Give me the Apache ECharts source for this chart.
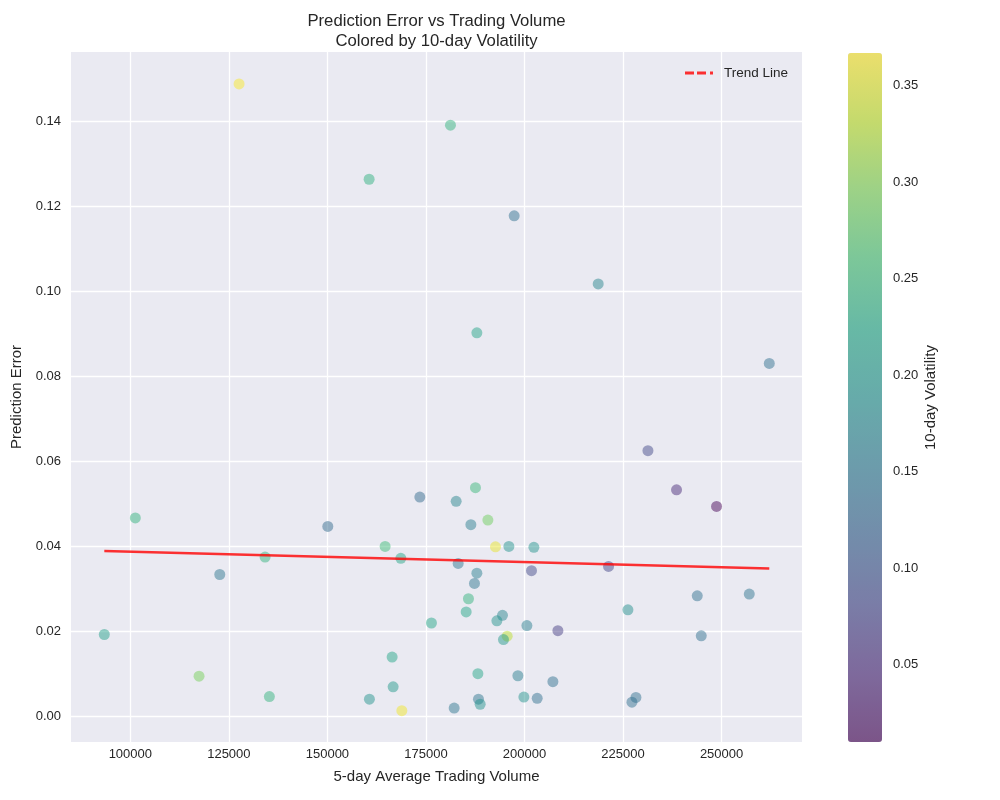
<!DOCTYPE html>
<html>
<head>
<meta charset="utf-8">
<script src="https://cdn.jsdelivr.net/npm/echarts@6/dist/echarts.min.js"></script>
<style>
html,body{margin:0;padding:0;background:#fff;}
#chart{width:1000px;height:800px;}
</style>
</head>
<body>
<div id="chart"></div>
<script>
// 5-day average trading volume (x)
const volume = [127589,160584,181218,197386,218706,187919,262107,173452,101269,150102,
  164645,168629,134188,122690,93401,176396,166421,117437,135279,166675,
  160660,168883,187563,182665,190711,186396,192640,196041,202386,183173,
  221320,201777,187919,187310,185787,185203,194416,192995,200609,208477,
  195609,194670,226244,243832,257030,244848,231320,238579,248731,188173,
  198325,207208,188325,188756,182157,199848,203223,228274,227259];
// prediction error (y)
const predError = [0.1487,0.1263,0.1390,0.1177,0.1017,0.0902,0.0830,0.0516,0.0467,0.0447,
  0.0400,0.0372,0.0375,0.0334,0.0193,0.0220,0.0140,0.0095,0.0047,0.0070,
  0.0041,0.0014,0.0538,0.0506,0.0462,0.0451,0.0399,0.0400,0.0398,0.0360,
  0.0353,0.0343,0.0337,0.0313,0.0277,0.0246,0.0238,0.0225,0.0214,0.0202,
  0.0189,0.0181,0.0251,0.0284,0.0288,0.0190,0.0625,0.0533,0.0494,0.0101,
  0.0096,0.0082,0.0041,0.0029,0.0020,0.0046,0.0043,0.0045,0.0034];
// 10-day volatility (colour)
const volatility = [0.365,0.235,0.24,0.14,0.17,0.215,0.14,0.13,0.24,0.13,
  0.25,0.22,0.24,0.15,0.21,0.22,0.22,0.29,0.24,0.20,
  0.19,0.36,0.245,0.17,0.285,0.16,0.355,0.19,0.19,0.15,
  0.08,0.085,0.16,0.15,0.24,0.22,0.17,0.19,0.16,0.07,
  0.33,0.20,0.185,0.14,0.145,0.14,0.085,0.05,0.012,0.22,
  0.16,0.14,0.15,0.19,0.15,0.19,0.14,0.14,0.14];
// trend line endpoints (linear fit)
const trendX = [93401, 262107];
const trendY = [0.0389, 0.0348];

const xTicks = [100000,125000,150000,175000,200000,225000,250000];
const yTicks = [0,0.02,0.04,0.06,0.08,0.10,0.12,0.14];
const cbTicks = [0.05,0.10,0.15,0.20,0.25,0.30,0.35];
const xRange = [84949, 270406];
const yRange = [-0.00597, 0.15621];
const volRange = [0.0099, 0.367];

const viridis = ['#440154','#482475','#414487','#355f8d','#2a788e','#21918c','#22a884','#44bf70','#7ad151','#bddf26','#fde725'];
function alpha(hex, a){
  const r=parseInt(hex.slice(1,3),16),g=parseInt(hex.slice(3,5),16),b=parseInt(hex.slice(5,7),16);
  return 'rgba('+r+','+g+','+b+','+a+')';
}
const FONT = '"Liberation Sans", Arial, sans-serif';
const TXT = '#262626';
const RED = 'rgba(255,0,0,0.8)';

const scatterData = volume.map((v,i)=>[v, predError[i], volatility[i]]);
const trendData = trendX.map((v,i)=>[v, trendY[i]]);

const chart = echarts.init(document.getElementById('chart'), null, {renderer:'canvas'});
chart.setOption({
  animation:false,
  backgroundColor:'#ffffff',
  textStyle:{fontFamily:FONT},
  title:{
    text:'Prediction Error vs Trading Volume\nColored by 10-day Volatility',
    left:436.5, top:11, padding:0, textAlign:'center',
    textStyle:{fontFamily:FONT, fontSize:16.7, fontWeight:'normal', color:TXT, lineHeight:20}
  },
  legend:{
    data:[{name:'Trend Line',
      icon:'path://M0,0H9V3H0Z M12,0H21V3H12Z M25,0H28V3H25Z',
      itemStyle:{color:RED, borderWidth:0}}],
    left:685, top:66, itemWidth:28, itemHeight:3, padding:0,
    textStyle:{fontFamily:FONT, fontSize:13.5, color:TXT, padding:[0,0,0,6]}
  },
  grid:[
    {left:71, top:52, width:731, height:690, show:true, backgroundColor:'#eaeaf2', borderWidth:0},
    {left:848, top:53, width:34, height:689, show:false}
  ],
  xAxis:[
    {type:'value', gridIndex:0, min:xRange[0], max:xRange[1],
     name:'5-day Average Trading Volume', nameLocation:'middle', nameGap:27,
     nameTextStyle:{fontFamily:FONT, fontSize:15, color:TXT},
     axisLine:{show:false}, axisTick:{show:false, customValues:xTicks},
     axisLabel:{customValues:xTicks, margin:6, fontFamily:FONT, fontSize:13, color:TXT,
       formatter:v=>String(Math.round(v))},
     splitLine:{show:true, lineStyle:{color:'#ffffff', width:1.3}}},
    {type:'value', gridIndex:1, show:false, min:0, max:1}
  ],
  yAxis:[
    {type:'value', gridIndex:0, min:yRange[0], max:yRange[1],
     name:'Prediction Error', nameLocation:'middle', nameGap:36,
     nameTextStyle:{fontFamily:FONT, fontSize:15, color:TXT},
     axisLine:{show:false}, axisTick:{show:false, customValues:yTicks},
     axisLabel:{customValues:yTicks, margin:10, fontFamily:FONT, fontSize:13, color:TXT,
       formatter:v=>v.toFixed(2)},
     splitLine:{show:true, lineStyle:{color:'#ffffff', width:1.3}}},
    {type:'value', gridIndex:1, position:'right', min:volRange[0], max:volRange[1],
     name:'10-day Volatility', nameLocation:'middle', nameGap:41, nameRotate:90,
     nameTextStyle:{fontFamily:FONT, fontSize:15, color:TXT},
     axisLine:{show:false}, axisTick:{show:false, customValues:cbTicks},
     axisLabel:{customValues:cbTicks, margin:11, fontFamily:FONT, fontSize:13, color:TXT,
       padding:[3,0,0,0], formatter:v=>v.toFixed(2)},
     splitLine:{show:false}}
  ],
  visualMap:{
    type:'continuous', seriesIndex:0, dimension:2,
    min:volRange[0], max:volRange[1],
    left:848, top:53, itemWidth:34, itemHeight:689, padding:0,
    calculable:false, showLabel:false, text:null, hoverLink:false,
    inRange:{color:viridis.map(c=>alpha(c,0.6))}
  },
  series:[
    {type:'scatter', name:'points', xAxisIndex:0, yAxisIndex:0, data:scatterData,
     symbolSize:11, z:2},
    {type:'line', name:'Trend Line', xAxisIndex:0, yAxisIndex:0, data:trendData,
     symbol:'none', showSymbol:false, lineStyle:{color:RED, width:2.5}, itemStyle:{color:RED}, z:3}
  ]
});
</script>
</body>
</html>
